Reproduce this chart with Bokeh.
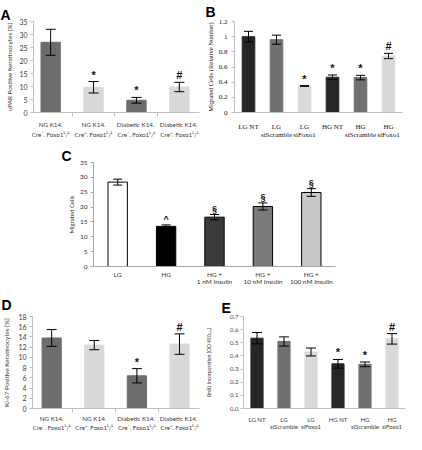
from bokeh.plotting import figure
from bokeh.models import ColumnDataSource, Whisker, TeeHead, FixedTicker, Range1d
from bokeh.layouts import column, row
from bokeh.embed import file_html
from bokeh.resources import INLINE
from bokeh.core.properties import value

SANS = "Lato"
SERIF = "Liberation Serif"

# ---------------- Panel A ----------------
a_categories = ["NG K14.\nCre\u207b. Foxo1\u1d38/\u1d38", "NG K14.\nCre\u207a. Foxo1\u1d38/\u1d38",
                "Diabetic  K14.\nCre\u207b. Foxo1\u1d38/\u1d38", "Diabetic  K14.\nCre\u207a. Foxo1\u1d38/\u1d38"]
a_values = [27.0, 9.7, 4.7, 9.8]
a_errors = [5.0, 2.2, 1.1, 1.8]
a_marks = ["", "*", "*", "#"]
a_colors = ["#6d6d6d", "#d9d9d9", "#6d6d6d", "#d9d9d9"]
a_yticks = [0, 5, 10, 15, 20, 25, 30, 35]
a_ytick_labels = ["0", "5", "10", "15", "20", "25", "30", "35"]
a_ytitle = "uPAR Positive Keratinocytes (%)"

# ---------------- Panel B ----------------
b_categories = ["LG NT", "LG\nsiScramble", "LG\nsiFoxo1", "HG NT", "HG\nsiScramble", "HG\nsiFoxo1"]
b_values = [1.0, 0.96, 0.35, 0.465, 0.46, 0.745]
b_errors = [0.07, 0.06, 0.005, 0.03, 0.03, 0.035]
b_marks = ["", "", "*", "*", "*", "#"]
b_colors = ["#262626", "#707070", "#d9d9d9", "#262626", "#707070", "#d9d9d9"]
b_yticks = [0, 0.2, 0.4, 0.6, 0.8, 1.0, 1.2]
b_ytick_labels = ["0", "0.2", "0.4", "0.6", "0.8", "1", "1.2"]
b_ytitle = "Migrated Cells (Relative Number)"

# ---------------- Panel C ----------------
c_categories = ["LG", "HG", "HG +\n1 nM Insulin", "HG +\n10 nM Insulin", "HG +\n100 nM Insulin"]
c_values = [28.4, 13.5, 16.6, 20.2, 24.9]
c_errors = [1.0, 0.5, 0.9, 1.2, 1.3]
c_marks = ["", "^", "\u00a7", "\u00a7", "\u00a7"]
c_colors = ["#ffffff", "#000000", "#3a3a3a", "#7a7a7a", "#c8c8c8"]
c_yticks = [0, 5, 10, 15, 20, 25, 30, 35]
c_ytick_labels = ["0", "5", "10", "15", "20", "25", "30", "35"]
c_ytitle = "Migrated Cells"

# ---------------- Panel D ----------------
d_categories = a_categories
d_values = [13.8, 12.4, 6.4, 12.6]
d_errors = [1.65, 0.9, 1.4, 2.0]
d_marks = ["", "", "*", "#"]
d_colors = ["#6d6d6d", "#d9d9d9", "#6d6d6d", "#d9d9d9"]
d_yticks = [0, 2, 4, 6, 8, 10, 12, 14, 16, 18]
d_ytick_labels = ["0", "2", "4", "6", "8", "10", "12", "14", "16", "18"]
d_ytitle = "Ki-67 Positive Keratinocytes [%]"

# ---------------- Panel E ----------------
e_categories = b_categories
e_values = [0.535, 0.51, 0.43, 0.34, 0.336, 0.53]
e_errors = [0.043, 0.035, 0.03, 0.033, 0.018, 0.04]
e_marks = ["", "", "", "*", "*", "#"]
e_colors = ["#262626", "#707070", "#d9d9d9", "#262626", "#707070", "#d9d9d9"]
e_yticks = [0.0, 0.1, 0.2, 0.3, 0.4, 0.5, 0.6, 0.7]
e_ytick_labels = ["0.0", "0.1", "0.2", "0.3", "0.4", "0.5", "0.6", "0.7"]
e_ytitle = "BrdU Incorporation (OD 450\u2099\u2098)"


def panel(letter, letter_x, letter_standoff, categories, values, errors, marks, colors, yticks,
          ytick_labels, ytitle, width, height, borders, x_range, y_range, font, tick_size,
          title_size, xlab_size, axis_color, text_color, bar_width, cap, bar_line=None,
          boundary_ticks=False, x_standoff=6, title_standoff=2, y_standoff=3, line_height=1.4,
          mark_size="11px"):
    left, right, top, bottom = borders
    p = figure(width=width, height=height, output_backend="svg", toolbar_location=None,
               x_range=Range1d(*x_range), y_range=Range1d(*y_range),
               min_border_left=left, min_border_right=right,
               min_border_top=top, min_border_bottom=bottom)
    p.outline_line_color = None
    p.grid.visible = False
    p.background_fill_color = "white"
    p.border_fill_color = "white"

    p.title.text = letter
    p.title.align = "left"
    p.title.offset = letter_x - left
    p.title.standoff = letter_standoff
    p.title.text_font = "Liberation Sans"
    p.title.text_font_size = "14px"
    p.title.text_font_style = "bold"
    p.title.text_color = "black"

    n = len(categories)
    xs = list(range(n))
    src = ColumnDataSource(dict(
        x=xs, top=values,
        upper=[v + e for v, e in zip(values, errors)],
        lower=[v - e for v, e in zip(values, errors)],
        mark=marks, color=colors))
    p.vbar(x="x", top="top", bottom=0, width=bar_width, fill_color="color",
           line_color=bar_line if bar_line else "color", line_width=1, source=src)
    wh = Whisker(source=src, base="x", upper="upper", lower="lower",
                 line_color="black", line_width=1, level="annotation",
                 upper_head=TeeHead(size=cap, line_color="black", line_width=1),
                 lower_head=TeeHead(size=cap, line_color="black", line_width=1))
    p.add_layout(wh)
    p.text(x="x", y="upper", text="mark", source=src, text_align="center",
           text_baseline="bottom", text_font_size=mark_size, text_font_style="bold",
           text_font=value("Liberation Sans"), text_color="#111111", y_offset=-1)

    yax = p.yaxis[0]
    yax.ticker = FixedTicker(ticks=yticks)
    yax.major_label_overrides = {t: s for t, s in zip(yticks, ytick_labels)}
    yax.axis_label = ytitle
    yax.axis_label_text_font = font
    yax.axis_label_text_font_size = title_size
    yax.axis_label_text_font_style = "normal"
    yax.axis_label_text_color = text_color
    yax.axis_label_standoff = title_standoff
    yax.major_label_text_font = font
    yax.major_label_text_font_size = tick_size
    yax.major_label_text_color = text_color
    yax.major_label_standoff = y_standoff
    yax.axis_line_color = axis_color
    yax.major_tick_line_color = axis_color
    yax.major_tick_out = 3
    yax.major_tick_in = 0
    yax.minor_tick_line_color = None

    xax = p.xaxis[0]
    minor = [i - 0.5 for i in range(n + 1)] if boundary_ticks else []
    xax.ticker = FixedTicker(ticks=xs, minor_ticks=minor)
    xax.major_label_overrides = {i: c for i, c in enumerate(categories)}
    xax.major_label_text_font = font
    xax.major_label_text_font_size = xlab_size
    xax.major_label_text_color = text_color
    xax.major_label_text_line_height = line_height
    xax.major_label_standoff = x_standoff
    xax.axis_line_color = axis_color
    xax.major_tick_line_color = None
    xax.major_tick_in = 0
    if boundary_ticks:
        xax.major_tick_out = 4
        xax.minor_tick_line_color = axis_color
        xax.minor_tick_out = 4
        xax.minor_tick_in = 0
    else:
        xax.major_tick_out = 0
        xax.minor_tick_line_color = None
    return p


pa = panel("A", 0, -3, a_categories, a_values, a_errors, a_marks, a_colors, a_yticks,
           a_ytick_labels, a_ytitle, 203, 142, (33, 4, 14, 27), (-0.40, 3.47), (0, 35),
           SANS, "7px", "6.3px", "6.3px", "#bfbfbf", "#404040", 0.45, 10,
           boundary_ticks=True, x_standoff=4, title_standoff=3, y_standoff=3, line_height=1.45)

pb = panel("B", 2, 3, b_categories, b_values, b_errors, b_marks, b_colors, b_yticks,
           b_ytick_labels, b_ytitle, 203, 142, (31, 4, 19, 28), (-0.5, 5.5), (0, 1.2),
           SERIF, "7px", "6.5px", "7px", "#bfbfbf", "#111111", 0.45, 9,
           x_standoff=10, title_standoff=2, y_standoff=4, line_height=1.12)

pc = panel("C", 61, -2, c_categories, c_values, c_errors, c_marks, c_colors, c_yticks,
           c_ytick_labels, c_ytitle, 406, 145, (93, 71, 20, 20), (-0.5, 4.5), (0, 35),
           SANS, "6.5px", "6px", "6.5px", "#a6a6a6", "#333333", 0.4, 9, bar_line="black",
           x_standoff=4, title_standoff=2, y_standoff=3, line_height=1.0, mark_size="9px")

pd = panel("D", 0, 8, d_categories, d_values, d_errors, d_marks, d_colors, d_yticks,
           d_ytick_labels, d_ytitle, 203, 147, (31, 4, 24, 24), (-0.45, 3.47), (0, 18),
           SANS, "7px", "6.3px", "6.3px", "#bfbfbf", "#404040", 0.45, 10,
           boundary_ticks=True, x_standoff=2, title_standoff=5, y_standoff=3, line_height=1.4)

pe = panel("E", 16, 1, e_categories, e_values, e_errors, e_marks, e_colors, e_yticks,
           e_ytick_labels, e_ytitle, 203, 147, (38, 1, 29, 22), (-0.5, 5.5), (0, 0.7),
           SANS, "6px", "5px", "6px", "#bfbfbf", "#404040", 0.45, 10,
           x_standoff=7, title_standoff=15, y_standoff=2, line_height=1.1)

layout = column(row(pa, pb), pc, row(pd, pe))
open("out.html", "w").write(file_html(layout, INLINE))
